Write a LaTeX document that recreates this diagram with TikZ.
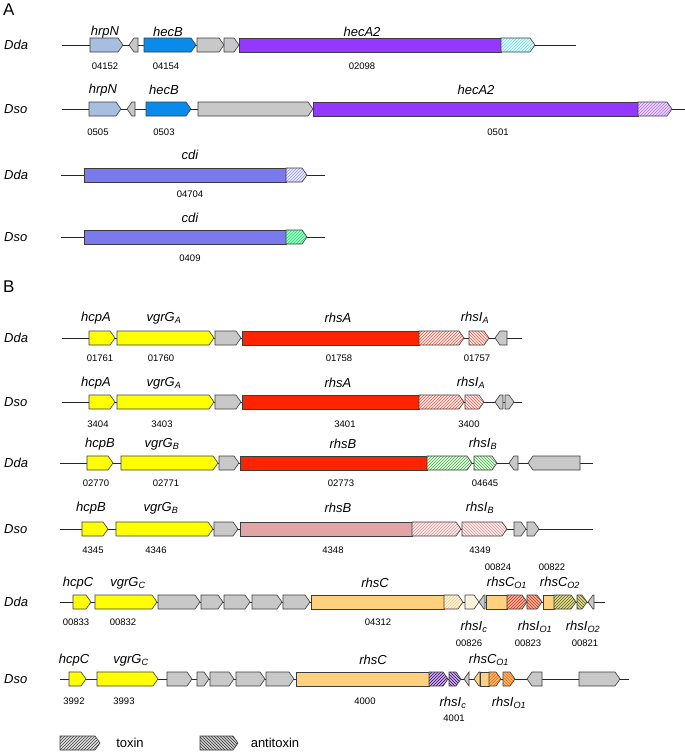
\documentclass[tikz,border=0pt]{standalone}
\usepackage{fontspec}
\setmainfont{Liberation Sans}
\usepackage{xcolor}
\usepackage{tikz}
\usetikzlibrary{patterns}

\definecolor{hrpncol}{HTML}{A7BEDF}
\definecolor{heccol}{HTML}{0A8BEA}
\definecolor{greycol}{HTML}{C8C8C8}
\definecolor{purplecol}{HTML}{9438FF}
\definecolor{cdicol}{HTML}{7A7AEE}
\definecolor{yellowcol}{HTML}{FFFF00}
\definecolor{redcol}{HTML}{FF2400}
\definecolor{pinkcol}{HTML}{E2A4A4}
\definecolor{orangecol}{HTML}{FFD17F}
\definecolor{edgecol}{HTML}{3C3C3C}

% forward gene: x1, x2, y, style
\newcommand{\fwdgene}[4]{%
  \pgfmathsetmacro{\tipx}{max(#1,#2-5)}%
  \draw[#4] (#1,#3-7) -- (\tipx,#3-7) -- (#2,#3) -- (\tipx,#3+7) -- (#1,#3+7) -- cycle;}
% reverse gene: x1 (tip), x2, y, style
\newcommand{\revgene}[4]{%
  \pgfmathsetmacro{\tipx}{min(#2,#1+5)}%
  \draw[#4] (#1,#3) -- (\tipx,#3-7) -- (#2,#3-7) -- (#2,#3+7) -- (\tipx,#3+7) -- cycle;}
% domain box: x1, x2, y, style
\newcommand{\boxgene}[4]{%
  \draw[#4] (#1,#3-7) rectangle (#2,#3+7);}

\begin{document}
\begin{tikzpicture}[x=1pt, y=-1pt,
    hatch/.style 2 args={gene, preaction={fill=#1}, pattern=north east lines, pattern color=#2},
    anti/.style 2 args={gene, preaction={fill=#1}, pattern=north west lines, pattern color=#2}]

    \tikzstyle{gene}=[draw=edgecol, line width=0.6pt, line join=miter]
    \tikzstyle{grey}=[gene, fill=greycol]
    \tikzstyle{backbone}=[draw=black!85, line width=0.9pt]
    \tikzstyle{genelabel}=[font=\fontsize{13}{15}\selectfont\itshape, inner sep=0pt]
    \tikzstyle{species}=[font=\fontsize{13}{15}\selectfont\itshape, inner sep=0pt, anchor=west]
    \tikzstyle{locus}=[font=\fontsize{9.5}{11}\selectfont, inner sep=0pt]
    \tikzstyle{panel}=[font=\fontsize{17}{19}\selectfont, inner sep=0pt, anchor=west]

    \useasboundingbox (0,0) rectangle (685,756);

    % ---- A ----
    \node[panel] (PANELA) at (3,10) {A};

    \node[species] (DDA1) at (4,45) {Dda};
    \draw[backbone] (62,45) -- (576,45);
    \fwdgene{90}{123}{45}{gene, fill=hrpncol}
    \revgene{129}{138}{45}{grey}
    \fwdgene{144}{196}{45}{gene, fill=heccol}
    \fwdgene{197}{224}{45}{grey}
    \fwdgene{224}{239}{45}{grey}
    \boxgene{239}{501}{45}{gene, fill=purplecol}
    \fwdgene{501}{535}{45}{hatch={cyan!10}{cyan!60!teal!60}}
    \node[genelabel] (HRPN1) at (105,32) {hrpN};
    \node[genelabel] (HECB1) at (168,32) {hecB};
    \node[genelabel] (HECA1) at (362,32) {hecA2};
    \node[locus] (L04152) at (105,66) {04152};
    \node[locus] (L04154) at (166,66) {04154};
    \node[locus] (L02098) at (362,66) {02098};

    \node[species] (DSO1) at (4,109) {Dso};
    \draw[backbone] (62,109) -- (685,109);
    \fwdgene{89}{121}{109}{gene, fill=hrpncol}
    \revgene{127}{135}{109}{grey}
    \fwdgene{146}{191}{109}{gene, fill=heccol}
    \fwdgene{198}{313}{109}{grey}
    \boxgene{313}{638}{109}{gene, fill=purplecol}
    \fwdgene{638}{672}{109}{hatch={purplecol!20}{purplecol!70}}
    \node[genelabel] (HRPN2) at (103,90) {hrpN};
    \node[genelabel] (HECB2) at (164,90) {hecB};
    \node[genelabel] (HECA2) at (476,90) {hecA2};
    \node[locus] (L0505) at (98,132) {0505};
    \node[locus] (L0503) at (164,132) {0503};
    \node[locus] (L0501) at (498,132) {0501};

    \node[species] (DDA2) at (4,175) {Dda};
    \draw[backbone] (61,175) -- (325,175);
    \boxgene{84}{286}{175}{gene, fill=cdicol}
    \fwdgene{286}{307}{175}{hatch={cdicol!15}{cdicol!80}}
    \node[genelabel] (CDI1) at (190,155) {cdi};
    \node[locus] (L04704) at (190,194) {04704};

    \node[species] (DSO2) at (4,237) {Dso};
    \draw[backbone] (61,237) -- (325,237);
    \boxgene{84}{286}{237}{gene, fill=cdicol}
    \fwdgene{286}{307}{237}{hatch={green!45!cyan!40}{green!60!teal!80}}
    \node[genelabel] (CDI2) at (190,218) {cdi};
    \node[locus] (L0409) at (190,258) {0409};

    % ---- B ----
    \node[panel] (PANELB) at (3,287) {B};

    \node[species] (DDA3) at (4,338) {Dda};
    \draw[backbone] (62,338) -- (522,338);
    \fwdgene{89}{115}{338}{gene, fill=yellowcol}
    \fwdgene{117}{214}{338}{gene, fill=yellowcol}
    \fwdgene{215}{241}{338}{grey}
    \boxgene{242}{419}{338}{gene, fill=redcol}
    \fwdgene{419}{464}{338}{hatch={red!6}{redcol!80}}
    \fwdgene{469}{489}{338}{anti={red!6}{redcol!80}}
    \revgene{495}{507}{338}{grey}
    \node[genelabel] (HCPA1) at (96,318) {hcpA};
    \node[genelabel] (VGRGA1) at (164,318) {vgrG\textsubscript{A}};
    \node[genelabel] (RHSA1) at (338,318) {rhsA};
    \node[genelabel] (RHSIA1) at (475,318) {rhsI\textsubscript{A}};
    \node[locus] (L01761) at (100,358) {01761};
    \node[locus] (L01760) at (161,358) {01760};
    \node[locus] (L01758) at (339,358) {01758};
    \node[locus] (L01757) at (477,358) {01757};

    \node[species] (DSO3) at (4,402) {Dso};
    \draw[backbone] (62,402) -- (522,402);
    \fwdgene{89}{115}{402}{gene, fill=yellowcol}
    \fwdgene{117}{214}{402}{gene, fill=yellowcol}
    \fwdgene{215}{241}{402}{grey}
    \boxgene{242}{419}{402}{gene, fill=redcol}
    \fwdgene{419}{464}{402}{hatch={red!6}{redcol!80}}
    \fwdgene{465}{484}{402}{anti={red!6}{redcol!80}}
    \revgene{495}{503}{402}{grey}
    \fwdgene{505}{514}{402}{grey}
    \node[genelabel] (HCPA2) at (96,383) {hcpA};
    \node[genelabel] (VGRGA2) at (164,383) {vgrG\textsubscript{A}};
    \node[genelabel] (RHSA2) at (338,383) {rhsA};
    \node[genelabel] (RHSIA2) at (471,383) {rhsI\textsubscript{A}};
    \node[locus] (L3404) at (98,424) {3404};
    \node[locus] (L3403) at (162,424) {3403};
    \node[locus] (L3401) at (345,424) {3401};
    \node[locus] (L3400) at (469,424) {3400};

    \node[species] (DDA4) at (4,463) {Dda};
    \draw[backbone] (60,463) -- (593,463);
    \fwdgene{87}{113}{463}{gene, fill=yellowcol}
    \fwdgene{121}{218}{463}{gene, fill=yellowcol}
    \fwdgene{219}{239}{463}{grey}
    \boxgene{240}{427}{463}{gene, fill=redcol}
    \fwdgene{427}{472}{463}{hatch={green!12}{green!50!black!70}}
    \fwdgene{474}{497}{463}{anti={green!12}{green!50!black!70}}
    \revgene{509}{518}{463}{grey}
    \revgene{528}{580}{463}{grey}
    \node[genelabel] (HCPB1) at (100,444) {hcpB};
    \node[genelabel] (VGRGB1) at (162,444) {vgrG\textsubscript{B}};
    \node[genelabel] (RHSB1) at (343,444) {rhsB};
    \node[genelabel] (RHSIB1) at (483,444) {rhsI\textsubscript{B}};
    \node[locus] (L02770) at (96,483) {02770};
    \node[locus] (L02771) at (166,483) {02771};
    \node[locus] (L02773) at (341,483) {02773};
    \node[locus] (L04645) at (485,483) {04645};

    \node[species] (DSO4) at (4,529) {Dso};
    \draw[backbone] (60,529) -- (593,529);
    \fwdgene{82}{108}{529}{gene, fill=yellowcol}
    \fwdgene{116}{213}{529}{gene, fill=yellowcol}
    \fwdgene{214}{238}{529}{grey}
    \boxgene{240}{412}{529}{gene, fill=pinkcol}
    \fwdgene{412}{461}{529}{hatch={pinkcol!20}{pinkcol!90!red}}
    \fwdgene{462}{507}{529}{anti={pinkcol!20}{pinkcol!90!red}}
    \fwdgene{514}{526}{529}{grey}
    \fwdgene{527}{539}{529}{grey}
    \node[genelabel] (HCPB2) at (91,508) {hcpB};
    \node[genelabel] (VGRGB2) at (161,508) {vgrG\textsubscript{B}};
    \node[genelabel] (RHSB2) at (338,508) {rhsB};
    \node[genelabel] (RHSIB2) at (480,508) {rhsI\textsubscript{B}};
    \node[locus] (L4345) at (93,550) {4345};
    \node[locus] (L4346) at (156,550) {4346};
    \node[locus] (L4348) at (333,550) {4348};
    \node[locus] (L4349) at (480,550) {4349};

    \node[species] (DDA5) at (4,602) {Dda};
    \draw[backbone] (60,602) -- (605,602);
    \fwdgene{73}{91}{602}{gene, fill=yellowcol}
    \fwdgene{95}{157}{602}{gene, fill=yellowcol}
    \fwdgene{158}{200}{602}{grey}
    \fwdgene{201}{223}{602}{grey}
    \fwdgene{224}{250}{602}{grey}
    \fwdgene{252}{282}{602}{grey}
    \fwdgene{283}{310}{602}{grey}
    \boxgene{311}{444}{602}{gene, fill=orangecol}
    \fwdgene{444}{463}{602}{hatch={orangecol!25}{orangecol!90!brown}}
    \fwdgene{465}{479}{602}{anti={orangecol!15}{orangecol!50}}
    \revgene{479}{485}{602}{grey}
    \boxgene{486}{507}{602}{gene, fill=orangecol}
    \fwdgene{507}{527}{602}{hatch={red!35!orange!45}{red!70!black!80}}
    \fwdgene{527}{542}{602}{anti={red!35!orange!45}{red!70!black!80}}
    \boxgene{543}{554}{602}{gene, fill=orangecol}
    \fwdgene{554}{576}{602}{hatch={olive!30}{olive!80!black}}
    \fwdgene{577}{587}{602}{anti={olive!30}{olive!80!black}}
    \revgene{588}{594}{602}{grey}
    \node[genelabel] (HCPC1) at (78,583) {hcpC};
    \node[genelabel] (VGRGC1) at (128,583) {vgrG\textsubscript{C}};
    \node[genelabel] (RHSC1) at (375,583) {rhsC};
    \node[genelabel] (RHSCO11) at (507,583) {rhsC\textsubscript{O1}};
    \node[genelabel] (RHSCO21) at (560,583) {rhsC\textsubscript{O2}};
    \node[locus] (L00824) at (498,567) {00824};
    \node[locus] (L00822) at (552,567) {00822};
    \node[locus] (L00833) at (76,622) {00833};
    \node[locus] (L00832) at (123,622) {00832};
    \node[locus] (L04312) at (378,622) {04312};
    \node[genelabel] (RHSIC1) at (474,627) {rhsI\textsubscript{c}};
    \node[genelabel] (RHSIO11) at (535,627) {rhsI\textsubscript{O1}};
    \node[genelabel] (RHSIO21) at (583,627) {rhsI\textsubscript{O2}};
    \node[locus] (L00826) at (469,643) {00826};
    \node[locus] (L00823) at (528,643) {00823};
    \node[locus] (L00821) at (585,643) {00821};

    \node[species] (DSO5) at (4,679) {Dso};
    \draw[backbone] (60,679) -- (629,679);
    \fwdgene{69}{86}{679}{gene, fill=yellowcol}
    \fwdgene{97}{158}{679}{gene, fill=yellowcol}
    \fwdgene{167}{192}{679}{grey}
    \fwdgene{197}{209}{679}{grey}
    \fwdgene{210}{234}{679}{grey}
    \fwdgene{236}{265}{679}{grey}
    \fwdgene{266}{294}{679}{grey}
    \boxgene{296}{429}{679}{gene, fill=orangecol}
    \fwdgene{429}{448}{679}{hatch={violet!30!blue!30}{violet!60!black}}
    \fwdgene{449}{461}{679}{anti={violet!30!blue!30}{violet!60!black}}
    \revgene{464}{469}{679}{grey}
    \revgene{474}{480}{679}{gene, fill=orangecol}
    \boxgene{480}{489}{679}{gene, fill=orangecol}
    \fwdgene{489}{501}{679}{hatch={orange!55}{orange!80!red}}
    \fwdgene{503}{515}{679}{anti={orange!55}{orange!80!red}}
    \revgene{527}{542}{679}{grey}
    \fwdgene{579}{620}{679}{grey}
    \node[genelabel] (HCPC2) at (74,660) {hcpC};
    \node[genelabel] (VGRGC2) at (131,660) {vgrG\textsubscript{C}};
    \node[genelabel] (RHSC2) at (373,660) {rhsC};
    \node[genelabel] (RHSCO12) at (489,660) {rhsC\textsubscript{O1}};
    \node[locus] (L3992) at (74,701) {3992};
    \node[locus] (L3993) at (124,701) {3993};
    \node[locus] (L4000) at (365,701) {4000};
    \node[genelabel] (RHSIC2) at (453,703) {rhsI\textsubscript{c}};
    \node[genelabel] (RHSIO12) at (509,703) {rhsI\textsubscript{O1}};
    \node[locus] (L4001) at (454,718) {4001};

    % legend
    \fwdgene{60}{100}{743}{hatch={black!12}{black!75}}
    \node[font=\fontsize{13}{15}\selectfont, inner sep=0pt] (TOXIN) at (130,743) {toxin};
    \fwdgene{200}{238}{743}{anti={black!18}{black!80}}
    \node[font=\fontsize{13}{15}\selectfont, inner sep=0pt] (ANTITOXIN) at (275,743) {antitoxin};

\end{tikzpicture}
\end{document}
